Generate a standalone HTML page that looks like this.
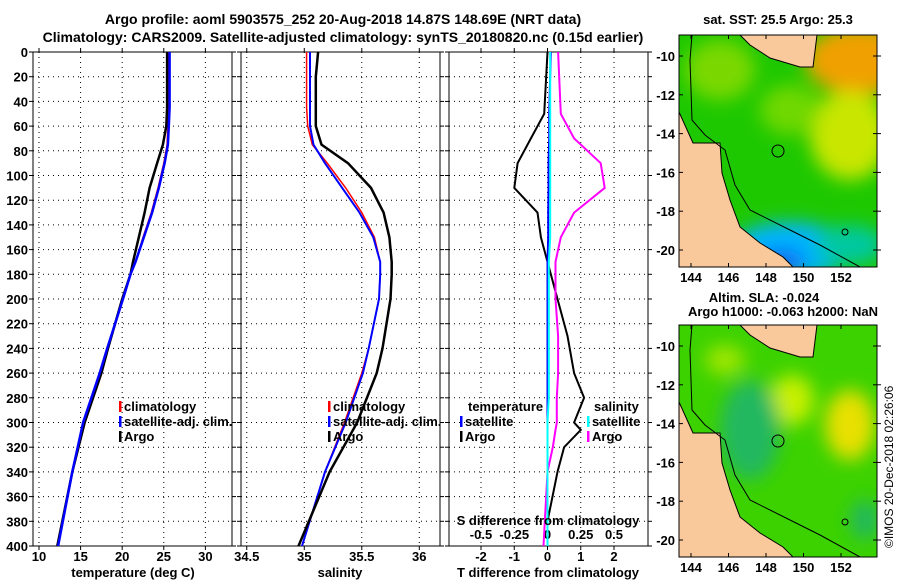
<!DOCTYPE html>
<html><head><meta charset="utf-8"><style>
body{margin:0;background:#fff;width:900px;height:580px;overflow:hidden}
svg text{font-family:"Liberation Sans",sans-serif;font-weight:bold;font-size:13px;fill:#000}
</style></head><body>
<svg id="c" width="900" height="580" xmlns="http://www.w3.org/2000/svg">
<defs>
<filter id="bl" x="-20%" y="-20%" width="140%" height="140%"><feGaussianBlur stdDeviation="9"/></filter>
<clipPath id="m1"><rect x="679" y="35" width="198" height="232"/></clipPath>
<clipPath id="m2"><rect x="679" y="325" width="198" height="232"/></clipPath>
</defs>
<text x="343" y="24" text-anchor="middle" style="font-size:14px">Argo profile: aoml 5903575_252 20-Aug-2018 14.87S 148.69E (NRT data)</text>
<text x="343" y="42" text-anchor="middle" style="font-size:14px">Climatology: CARS2009. Satellite-adjusted climatology: synTS_20180820.nc (0.15d earlier)</text>
<g id="plots"></g>
<g clip-path="url(#m1)">
<rect x="679" y="35" width="198" height="232" fill="#1ec800"/>
<g filter="url(#bl)">
<ellipse cx="860" cy="60" rx="55" ry="35" fill="#f0a000"/>
<ellipse cx="850" cy="135" rx="40" ry="45" fill="#c8e600"/>
<ellipse cx="790" cy="110" rx="30" ry="25" fill="#6fd800"/>
<ellipse cx="720" cy="70" rx="35" ry="30" fill="#7ad800"/>
<ellipse cx="790" cy="250" rx="60" ry="28" fill="#00b4ff"/>
<ellipse cx="780" cy="262" rx="25" ry="12" fill="#1060f0"/>
<ellipse cx="850" cy="245" rx="35" ry="20" fill="#00c8a0"/>
</g>
<polygon points="679,35 679,112 693,143 720,143 722,173 730,200 740,227 760,243 783,257 793,267 679,267" fill="#f9c89b" stroke="#000" stroke-width="1"/>
<polygon points="740,35 750,45 770,58 800,67 813,67 817,35" fill="#f9c89b" stroke="#000" stroke-width="1"/>
<polyline points="692,35 690,60 692,120 705,135 725,150 735,185 750,210 790,230 820,245 860,267" fill="none" stroke="#000"/>
<circle cx="778" cy="151" r="6" fill="none" stroke="#000"/>
<circle cx="845" cy="232" r="3" fill="none" stroke="#000"/>
</g>
<rect x="679" y="35" width="198" height="232" fill="none" stroke="#000"/>
<text x="778" y="24" text-anchor="middle">sat. SST: 25.5 Argo: 25.3</text>
<g clip-path="url(#m2)">
<rect x="679" y="325" width="198" height="232" fill="#3cd200"/>
<g filter="url(#bl)">
<ellipse cx="792" cy="400" rx="22" ry="25" fill="#c8f000"/>
<ellipse cx="850" cy="425" rx="25" ry="35" fill="#e8e000"/>
<ellipse cx="725" cy="360" rx="20" ry="15" fill="#a0e600"/>
<ellipse cx="750" cy="430" rx="30" ry="50" fill="#20b860"/>
<ellipse cx="865" cy="520" rx="15" ry="20" fill="#20b860"/>
</g>
<polygon points="679,325 679,402 693,433 720,433 722,463 730,490 740,517 760,533 783,547 793,557 679,557" fill="#f9c89b" stroke="#000"/>
<polygon points="740,325 750,335 770,348 800,357 813,357 817,325" fill="#f9c89b" stroke="#000"/>
<polyline points="692,325 690,350 692,410 705,425 725,440 735,475 750,500 790,520 820,535 860,557" fill="none" stroke="#000"/>
<circle cx="778" cy="441" r="6" fill="none" stroke="#000"/>
<circle cx="845" cy="522" r="3" fill="none" stroke="#000"/>
</g>
<rect x="679" y="325" width="198" height="232" fill="none" stroke="#000"/>
<text x="764" y="302" text-anchor="middle">Altim. SLA: -0.024</text>
<text x="783" y="316" text-anchor="middle">Argo h1000: -0.063 h2000: NaN</text>
<text transform="translate(893,548) rotate(-90)" style="font-size:12px;font-weight:normal">©IMOS 20-Dec-2018 02:26:06</text>
<g id="mapaxes"></g>
</svg>
<script>
const depths=[0,20,45,60,75,90,110,130,150,170,180,200,240,260,300,340,400];
const tArgo=[25.4,25.4,25.4,25.3,24.9,24.2,23.3,22.7,22.0,21.3,21.0,20.0,18.3,17.5,15.5,14.0,12.2];
const tSat=[25.7,25.7,25.7,25.6,25.5,25.1,24.4,23.6,22.6,21.6,21.0,20.1,18.2,17.3,15.3,14.0,12.3];
const tClim=[25.6,25.6,25.6,25.5,25.4,25.0,24.3,23.5,22.5,21.6,21.0,20.1,18.3,17.4,15.4,14.0,12.3];
const sArgo=[35.12,35.10,35.10,35.10,35.15,35.38,35.58,35.69,35.74,35.76,35.76,35.75,35.68,35.63,35.46,35.22,34.95];
const sSat=[35.05,35.05,35.05,35.05,35.08,35.18,35.33,35.48,35.60,35.66,35.66,35.65,35.56,35.51,35.36,35.18,34.98];
const sClim=[35.02,35.02,35.02,35.03,35.07,35.20,35.36,35.50,35.61,35.66,35.66,35.65,35.56,35.50,35.35,35.18,34.98];
const dDepths=[0,50,70,90,110,130,150,170,200,230,260,280,300,306,320,340,380,400];
const dTArgo=[0,-0.1,-0.5,-0.9,-1.0,-0.3,-0.2,0,0.3,0.6,0.8,1.1,0.8,1.0,0.5,0.3,0,0];
const dTSat=[0.1,0.05,0.05,0.03,0.03,0.02,0.02,0,0,0,0,0,0,0,0,0,0,0];
const dSArgo=[0.08,0.1,0.2,0.4,0.43,0.2,0.1,0.06,0.06,0.08,0.08,0.07,0.07,0.06,0.04,0,-0.02,-0.03];
const dSSat=[0.02,0.02,0.02,0.02,0.02,0.02,0.02,0.01,0.01,0.01,0.01,0.01,0,0,0,0,0,0];
const depthTicks=[0,20,40,60,80,100,120,140,160,180,200,220,240,260,280,300,320,340,360,380,400];
const tTicks=[10,15,20,25,30];
const sTicks=[34.5,35,35.5,36];
const dtTicks=[-2,-1,0,1,2];
const dsTicks=[-0.5,-0.25,0,0.25,0.5];
const lonTicks=[144,146,148,150,152];
const latTicks=[-10,-12,-14,-16,-18,-20];

const NS='http://www.w3.org/2000/svg';
const g=document.getElementById('plots');
function el(tag,at,par){const e=document.createElementNS(NS,tag);for(const k in at)e.setAttribute(k,at[k]);(par||g).appendChild(e);return e;}
const Y0=52,Y1=546;
const yD=d=>Y0+(d/400)*(Y1-Y0);
const panels=[{x0:33,x1:232,lo:9.28,hi:33.2},{x0:241,x1:440,lo:34.45,hi:36.18},{x0:449,x1:648,lo:-2.0-(481-449)/33.25,hi:-2+(648-481)/33.25}];
function sx(p,v){return p.x0+(v-p.lo)/(p.hi-p.lo)*(p.x1-p.x0);}
const pS={x0:449,x1:648,lo:-0.5-(481-449)/133,hi:-0.5+(648-481)/133};
panels.forEach((p,i)=>{
  const fr=el('rect',{x:p.x0,y:Y0,width:p.x1-p.x0,height:Y1-Y0,fill:'none',stroke:'#000'});
  
  
  depthTicks.forEach(d=>{
    const y=yD(d);
    const gl=el('line',{x1:p.x0,x2:p.x1,y1:y,y2:y,stroke:'#000','stroke-dasharray':'1,4'});
    
    
    el('line',{x1:p.x0-4,x2:p.x0,y1:y,y2:y,stroke:'#000'});
    el('line',{x1:p.x1,x2:p.x1+4,y1:y,y2:y,stroke:'#000'});
    if(i==0){const t=el('text',{x:28,y:y+5,'text-anchor':'end'});t.textContent=d;
      
      }
  });
});
function xgrid(p,ticks,labY,fmt,name){
  ticks.forEach(v=>{const x=sx(p,v);
    const gl=el('line',{x1:x,x2:x,y1:Y0,y2:Y1,stroke:'#000','stroke-dasharray':'1,4'});
    
    
    el('line',{x1:x,x2:x,y1:Y1,y2:Y1+4,stroke:'#000'});
    el('line',{x1:x,x2:x,y1:Y0-4,y2:Y0,stroke:'#000'});
    const t=el('text',{x:x,y:labY,'text-anchor':'middle'});t.textContent=fmt(v);
    
    });
}
xgrid(panels[0],tTicks,561,v=>v,'temperature');
xgrid(panels[1],sTicks,561,v=>v,'salinity');
xgrid(panels[2],dtTicks,561,v=>v,'t-diff');
dsTicks.forEach(v=>{const x=sx(pS,v);const t=el('text',{x:x,y:539,'text-anchor':'middle'});t.textContent=v;
  
  });
function line(p,xs,ds,col,w,name){
  const pts=xs.map((v,k)=>sx(p,v).toFixed(1)+','+yD(ds[k]).toFixed(1)).join(' ');
  const e=el('polyline',{points:pts,fill:'none',stroke:col,'stroke-width':w});
  
  
}
line(panels[0],tClim,depths,'#f00',1.5,'temperature-climatology-line');
line(panels[0],tArgo,depths,'#000',2.5,'temperature-argo-line');
line(panels[0],tSat,depths,'#00f',2.5,'temperature-satellite-line');
line(panels[1],sClim,depths,'#f00',1.5,'salinity-climatology-line');
line(panels[1],sSat,depths,'#00f',2,'salinity-satellite-line');
line(panels[1],sArgo,depths,'#000',2.5,'salinity-argo-line');
line(panels[2],dTArgo,dDepths,'#000',2,'t-diff-argo-line');
line(panels[2],dTSat,dDepths,'#00f',2,'t-diff-satellite-line');
line(pS,dSArgo,dDepths,'#f0f',2,'s-diff-argo-line');
line(pS,dSSat,dDepths,'#0ff',2,'s-diff-satellite-line');
function lab(x,y,txt,anchor,name){const t=el('text',{x:x,y:y,'text-anchor':anchor||'start'});t.textContent=txt;
  
  }
lab(133,577,'temperature (deg C)','middle','x-axis-title-temperature');
lab(340,577,'salinity','middle','x-axis-title-salinity');
lab(548,577,'T difference from climatology','middle','x-axis-title-t-diff');
lab(548,525,'S difference from climatology','middle','x-axis-title-s-diff');
function leg(x,y,col,txt,name){el('rect',{x:x,y:y-10,width:2.5,height:11,fill:col});lab(x+5,y,txt,'start',name);}
leg(119,411,'#f00','climatology','legend-climatology');
leg(119,426,'#00f','satellite-adj. clim.','legend-satellite-adj');
leg(119,441,'#000','Argo','legend-argo');
leg(328,411,'#f00','climatology','legend2-climatology');
leg(328,426,'#00f','satellite-adj. clim.','legend2-satellite-adj');
leg(328,441,'#000','Argo','legend2-argo');
lab(468,411,'temperature','start','legend3-temperature-heading');
leg(460,426,'#00f','satellite','legend3-t-satellite');
leg(460,441,'#000','Argo','legend3-t-argo');
lab(594,411,'salinity','start','legend3-salinity-heading');
leg(587,426,'#0ff','satellite','legend3-s-satellite');
leg(587,441,'#f0f','Argo','legend3-s-argo');
const ma=document.getElementById('mapaxes');
[[35,56],[325,346]].forEach(([top,y10],mi)=>{
  const bot=top+232;
  lonTicks.forEach(v=>{const x=691+(v-144)*18.75;
    el('line',{x1:x,x2:x,y1:bot,y2:bot-4,stroke:'#000'},ma);
    el('line',{x1:x,x2:x,y1:top,y2:top+4,stroke:'#000'},ma);
    const t=el('text',{x:x,y:bot+15,'text-anchor':'middle'},ma);t.textContent=v;
    
    });
  latTicks.forEach(v=>{const y=y10+(-10-v)*19.4;
    el('line',{x1:679,x2:683,y1:y,y2:y,stroke:'#000'},ma);
    el('line',{x1:873,x2:881,y1:y,y2:y,stroke:'#000'},ma);
    const t=el('text',{x:675,y:y+5,'text-anchor':'end'},ma);t.textContent=v;
    
    });
});
</script>
</body></html>
